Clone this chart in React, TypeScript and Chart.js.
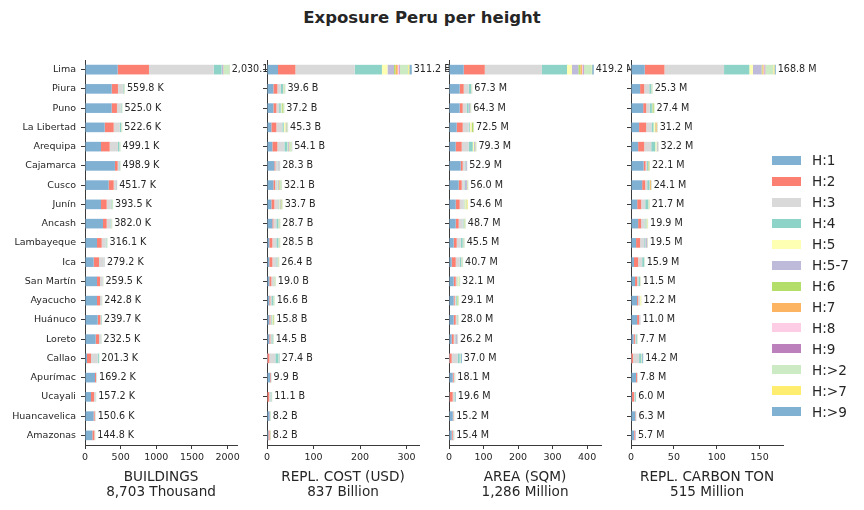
import React, { useEffect, useRef } from "react";
import { Chart, registerables } from "chart.js";

Chart.register(...registerables);
Chart.defaults.font.family = "'DejaVu Sans', sans-serif";

const TEXT = "#262626";
const AXIS = "#3a3a3a";

const regions = [
  "Lima", "Piura", "Puno", "La Libertad", "Arequipa", "Cajamarca", "Cusco",
  "Junín", "Ancash", "Lambayeque", "Ica", "San Martín", "Ayacucho", "Huánuco",
  "Loreto", "Callao", "Apurímac", "Ucayali", "Huancavelica", "Amazonas",
];

const heights = [
  "H:1", "H:2", "H:3", "H:4", "H:5", "H:5-7", "H:6", "H:7", "H:8", "H:9",
  "H:>2", "H:>7", "H:>9",
];

const heightColors = [
  "#80b1d3", "#fb8072", "#d9d9d9", "#8dd3c7", "#ffffb3", "#bebada", "#b3de69",
  "#fdb462", "#fccde5", "#bc80bd", "#ccebc5", "#ffed6f", "#80b1d3",
];

// one row per region, columns follow `heights`
const buildings = [
  [458, 439, 908, 110, 2, 20, 2, 3, 1, 2, 75, 4, 6],
  [374, 88, 68, 10, 1, 3, 2, 1, 0.5, 0.5, 10, 1, 1.3],
  [374, 74, 52, 12, 1, 2, 1, 0.5, 0.3, 0.2, 7, 0.5, 0.5],
  [276, 126, 84, 20, 1.5, 2, 1.5, 0.5, 0.3, 0.3, 9, 0.5, 1],
  [224, 122, 116, 19, 1.5, 3, 1.5, 0.5, 0.3, 0.3, 9, 0.5, 1.5],
  [420, 38, 20, 6, 0.5, 8, 1, 0.3, 0.2, 0.2, 4, 0.3, 0.4],
  [332, 70, 23, 4, 1, 14, 1.5, 0.5, 0.3, 0.3, 4, 0.4, 0.7],
  [224, 80, 56, 10, 2, 3, 2, 0.5, 0.3, 0.3, 14, 0.6, 0.8],
  [252, 52, 51, 8, 2, 2.5, 1.5, 0.5, 0.3, 0.3, 10, 0.5, 1.4],
  [168, 66, 56, 10, 1.5, 3, 1, 0.5, 0.3, 0.3, 8, 0.5, 1],
  [121, 75, 66, 5, 1, 6, 0.5, 0.3, 0.2, 0.2, 3.5, 0.2, 0.3],
  [168, 42, 38, 4, 1.5, 1, 0.5, 0.3, 0.2, 0.2, 3.5, 0.1, 0.2],
  [168, 42, 24, 3, 0.5, 1, 0.5, 0.2, 0.1, 0.1, 3, 0.2, 0.2],
  [178, 37, 10, 8, 0.5, 1, 0.5, 0.2, 0.1, 0.1, 3.8, 0.2, 0.3],
  [150, 46, 24, 5, 0.5, 1.5, 0.5, 0.2, 0.1, 0.1, 4, 0.2, 0.4],
  [28, 56, 94, 16, 0.5, 0.5, 0.3, 0.3, 0.2, 0.2, 4, 0.3, 1],
  [140, 14, 8, 3, 0.5, 0.5, 0.3, 0.2, 0.1, 0.1, 2, 0.2, 0.3],
  [84, 42, 19, 4, 0.5, 1, 0.3, 0.3, 0.2, 0.2, 5, 0.2, 0.5],
  [121, 15, 9, 2, 0.3, 0.5, 0.5, 0.1, 0.1, 0.1, 1.5, 0.1, 0.3],
  [103, 28, 8, 2, 0.3, 0.5, 0.3, 0.3, 0.1, 0.1, 1.8, 0.1, 0.3],
];
const buildingsTotals = [
  2030.1, 559.8, 525.0, 522.6, 499.1, 498.9, 451.7, 393.5, 382.0, 316.1,
  279.2, 259.5, 242.8, 239.7, 232.5, 201.3, 169.2, 157.2, 150.6, 144.8,
];

const cost = [
  [23.7, 37.3, 127.5, 58.5, 12, 14, 3, 5, 3, 1.5, 18, 2.5, 5.2],
  [13.7, 8.6, 7.2, 5, 0.5, 0.6, 0.3, 0.2, 0.1, 0.1, 3, 0.1, 0.2],
  [13.7, 6.4, 5.9, 3.5, 1.5, 0.8, 2, 0.3, 0.2, 0.1, 2.2, 0.3, 0.3],
  [9.4, 10.7, 12.9, 3, 3.6, 2, 1, 0.3, 0.2, 0.1, 1.6, 0.2, 0.3],
  [11.5, 10.8, 15.1, 6.5, 1, 2, 1, 0.4, 0.3, 0.2, 3.6, 0.6, 1.1],
  [15.8, 2.2, 5, 1, 0.3, 2.5, 0.3, 0.2, 0.1, 0.1, 0.5, 0.1, 0.2],
  [13.7, 3.6, 3, 1.5, 0.8, 2.5, 1.5, 0.6, 0.3, 0.3, 3, 0.5, 0.8],
  [9.4, 6.4, 8.7, 1.5, 1, 2, 2, 0.3, 0.2, 0.2, 1.5, 0.3, 0.2],
  [11.5, 2.2, 6.4, 4.4, 0.5, 0.6, 0.5, 0.2, 0.1, 0.1, 1.8, 0.2, 0.2],
  [5, 6.5, 8.6, 4.4, 0.5, 0.6, 0.3, 0.2, 0.1, 0.1, 1.8, 0.2, 0.2],
  [5, 6.5, 8.6, 2.2, 0.5, 0.8, 0.3, 0.2, 0.1, 0.1, 1.8, 0.1, 0.2],
  [5, 4.4, 4, 1, 0.6, 0.4, 0.3, 0.2, 0.1, 0.1, 2.7, 0.1, 0.1],
  [5, 2.2, 2.2, 4, 0.3, 0.5, 0.4, 0.1, 0.1, 0.1, 1.4, 0.1, 0.2],
  [5, 2.2, 2, 2, 1, 0.5, 1.5, 0.2, 0.1, 0.1, 0.8, 0.2, 0.2],
  [5, 2.2, 2.2, 2.5, 0.3, 0.4, 0.2, 0.1, 0.05, 0.05, 1.3, 0.1, 0.1],
  [0.3, 4.7, 13, 6.5, 0.2, 0.2, 0.1, 0.1, 0.05, 0.05, 1, 0.2, 1.1],
  [7, 1.5, 0.7, 0.4, 0.05, 0.05, 0.05, 0.02, 0.01, 0.01, 0.05, 0.02, 0.04],
  [1, 3.5, 3, 2, 0.2, 0.2, 0.1, 0.1, 0.05, 0.05, 0.6, 0.1, 0.2],
  [5.5, 0.8, 0.6, 0.4, 0.1, 0.1, 0.5, 0.05, 0.02, 0.03, 0.05, 0.02, 0.03],
  [3, 2.5, 1, 0.5, 0.1, 0.1, 0.1, 0.7, 0.02, 0.03, 0.05, 0.05, 0.05],
];
const costTotals = [
  311.2, 39.6, 37.2, 45.3, 54.1, 28.3, 32.1, 33.7, 28.7, 28.5,
  26.4, 19.0, 16.6, 15.8, 14.5, 27.4, 9.9, 11.1, 8.2, 8.2,
];

const area = [
  [42.6, 61, 165.4, 72.7, 14.3, 18.6, 5.8, 4.6, 2, 3, 23, 1.5, 4.7],
  [31, 11.6, 14.4, 7, 0.4, 0.6, 0.3, 0.2, 0.1, 0.1, 1.6, 0.1, 0.2],
  [31, 8.7, 11.6, 5.7, 0.5, 4, 0.5, 0.2, 0.1, 0.1, 1.5, 0.2, 0.2],
  [22.3, 17.4, 17.3, 3, 5, 1.2, 3.7, 0.3, 0.2, 0.1, 1.5, 0.2, 0.3],
  [19.4, 17.4, 20.2, 11.7, 3.9, 2.9, 0.8, 0.3, 0.2, 0.1, 1.8, 0.2, 0.4],
  [33.9, 5.8, 5.8, 2, 0.4, 3.8, 0.3, 0.1, 0.1, 0.1, 0.4, 0.1, 0.1],
  [28, 8.8, 5.8, 2, 0.6, 6.7, 0.8, 0.3, 0.2, 0.1, 2.3, 0.2, 0.2],
  [19.4, 11.6, 11.6, 2, 3, 0.6, 1.7, 0.3, 0.1, 0.1, 2, 2, 0.2],
  [19.4, 8.6, 11.7, 2, 0.8, 0.8, 0.8, 0.3, 0.1, 0.1, 3.5, 0.3, 0.3],
  [13.6, 8.7, 11.6, 5.8, 0.6, 1, 0.5, 0.2, 0.1, 0.1, 2.8, 0.2, 0.3],
  [7.7, 11.7, 11.6, 4, 0.5, 1, 0.3, 0.2, 0.1, 0.1, 3, 0.2, 0.3],
  [13.6, 5.8, 3.8, 1, 3, 0.6, 0.5, 0.2, 0.1, 0.1, 2.8, 0.2, 0.4],
  [13.6, 2.9, 3, 3, 0.3, 0.5, 1.5, 0.2, 0.1, 0.1, 3.4, 0.2, 0.3],
  [13.6, 5.8, 3, 2, 0.5, 0.6, 0.4, 0.2, 0.1, 0.1, 1.3, 0.2, 0.2],
  [7.7, 5.9, 3, 1.5, 0.3, 5.7, 0.3, 0.2, 0.1, 0.1, 1, 0.2, 0.2],
  [0.5, 7.2, 17.5, 5.8, 0.2, 0.2, 0.1, 0.1, 0.1, 0.1, 2, 0.2, 3.1],
  [10.7, 3, 2, 1, 0.3, 0.3, 0.2, 0.1, 0.05, 0.05, 0.3, 0.1, 0.1],
  [2, 8.6, 4, 1, 0.2, 0.2, 0.1, 0.1, 0.05, 0.05, 1.3, 0.1, 2],
  [11, 1.5, 1, 0.7, 0.2, 0.3, 0.2, 0.05, 0.03, 0.02, 0.1, 0.05, 0.05],
  [7.7, 3, 2, 1.5, 0.2, 0.3, 0.2, 0.1, 0.05, 0.05, 0.1, 0.1, 0.1],
];
const areaTotals = [
  419.2, 67.3, 64.3, 72.5, 79.3, 52.9, 56.0, 54.6, 48.7, 45.5,
  40.7, 32.1, 29.1, 28.0, 26.2, 37.0, 18.1, 19.6, 15.2, 15.4,
];

const carbon = [
  [16, 23, 69.5, 29.5, 4.2, 10, 1, 1.3, 1, 1, 9.5, 1.3, 1.5],
  [10.6, 4.8, 5.9, 2.3, 0.2, 0.3, 0.2, 0.1, 0.05, 0.05, 0.6, 0.1, 0.1],
  [14.2, 3.5, 4.2, 2.4, 0.3, 0.4, 1.5, 0.1, 0.05, 0.05, 0.6, 0.1, 0.1],
  [9.4, 8.3, 6.2, 2.4, 1.5, 0.4, 0.5, 1.2, 0.1, 0.1, 0.6, 0.2, 0.3],
  [8.3, 7.1, 8.2, 4.7, 1.5, 1.3, 0.3, 0.1, 0.1, 0.1, 0.3, 0.1, 0.1],
  [14.7, 2.3, 1.5, 1.2, 0.2, 0.3, 0.9, 0.1, 0.05, 0.05, 0.6, 0.1, 0.1],
  [13, 3.5, 2.4, 2.5, 0.2, 0.5, 0.2, 1, 0.05, 0.05, 0.4, 0.1, 0.2],
  [7.2, 4.7, 4.7, 3.5, 0.3, 0.4, 0.3, 0.1, 0.05, 0.05, 0.3, 0.1, 0.1],
  [8.3, 3.5, 4, 1, 0.2, 0.2, 0.2, 0.1, 0.05, 0.05, 1.5, 0.6, 0.2],
  [5.9, 4.7, 4.8, 1, 0.2, 2.2, 0.2, 0.1, 0.05, 0.05, 0.2, 0.1, 0.1],
  [3.5, 4.8, 4.7, 2.4, 0.1, 0.1, 0.05, 0.05, 0.02, 0.03, 0.1, 0.02, 0.03],
  [4.7, 2.4, 1.5, 2, 0.2, 0.1, 0.05, 0.05, 0.02, 0.03, 0.4, 0.02, 0.03],
  [7.1, 1.2, 2, 0.3, 1.3, 0.1, 0.05, 0.05, 0.02, 0.03, 0.02, 0.01, 0.02],
  [7.1, 2.3, 0.2, 0.1, 0.05, 1.1, 0.05, 0.02, 0.02, 0.02, 0.02, 0.01, 0.01],
  [3, 1.5, 1.5, 1.2, 0.1, 0.1, 0.05, 0.05, 0.02, 0.03, 0.1, 0.02, 0.03],
  [0.3, 2.1, 7, 2.4, 0.05, 0.05, 0.02, 0.02, 0.02, 0.02, 1, 0.02, 1.2],
  [5.9, 1.2, 0.4, 0.2, 0.02, 0.02, 0.02, 0.01, 0.01, 0.01, 0.02, 0.01, 0.01],
  [1.2, 2.3, 1.2, 1, 0.05, 0.05, 0.02, 0.02, 0.01, 0.01, 0.1, 0.01, 0.03],
  [5, 0.6, 0.4, 0.1, 0.02, 0.05, 0.03, 0.01, 0.01, 0.01, 0.02, 0.01, 0.02],
  [3.5, 0.8, 0.2, 0.1, 0.02, 1, 0.02, 0.01, 0.01, 0.01, 0.02, 0.01, 0.01],
];
const carbonTotals = [
  168.8, 25.3, 27.4, 31.2, 32.2, 22.1, 24.1, 21.7, 19.9, 19.5,
  15.9, 11.5, 12.2, 11.0, 7.7, 14.2, 7.8, 6.0, 6.3, 5.7,
];

function fmtTotal(v: number, unit: string) {
  return (
    v.toLocaleString("en-US", {
      minimumFractionDigits: 1,
      maximumFractionDigits: 1,
    }) +
    " " +
    unit
  );
}

type PanelProps = {
  left: number;
  width: number;
  axisWidth: number;
  padRight: number;
  table: number[][];
  totals: number[];
  unit: string;
  step: number;
  title: string[];
  showRegions: boolean;
};

function Panel(p: PanelProps) {
  const canvasRef = useRef<HTMLCanvasElement>(null);

  useEffect(() => {
    if (!canvasRef.current) return;
    const sums = p.table.map((row) => row.reduce((a, b) => a + b, 0));
    const maxX = Math.max(...sums) * 1.05;

    // bar_label-like totals at the end of every stacked bar
    const totalLabels = {
      id: "totalLabels",
      afterDatasetsDraw(chart: any) {
        const { ctx } = chart;
        const xs = chart.scales.x;
        const ys = chart.scales.y;
        ctx.save();
        ctx.font = "9.6px 'DejaVu Sans'";
        ctx.fillStyle = TEXT;
        ctx.textBaseline = "middle";
        ctx.textAlign = "left";
        p.totals.forEach((t, i) => {
          ctx.fillText(
            fmtTotal(t, p.unit),
            xs.getPixelForValue(sums[i]) + 2,
            ys.getPixelForValue(i),
          );
        });
        ctx.restore();
      },
    };

    const chart = new Chart(canvasRef.current, {
      type: "bar",
      data: {
        labels: regions,
        datasets: heights.map((h, k) => ({
          label: h,
          data: p.table.map((row) => row[k]),
          backgroundColor: heightColors[k],
          borderWidth: 0,
          barPercentage: 0.5,
          categoryPercentage: 1,
        })),
      },
      options: {
        indexAxis: "y",
        animation: false,
        responsive: true,
        maintainAspectRatio: false,
        layout: { padding: { top: 60, right: p.padRight, left: 0, bottom: 0 } },
        plugins: {
          legend: { display: false },
          tooltip: { enabled: false },
        },
        scales: {
          x: {
            stacked: true,
            min: 0,
            max: maxX,
            grid: {
              drawOnChartArea: false,
              drawTicks: true,
              tickLength: 4,
              color: AXIS,
            },
            border: { display: true, color: AXIS, width: 1 },
            ticks: {
              autoSkip: false,
              maxRotation: 0,
              padding: 3,
              color: TEXT,
              font: { size: 9.5 },
              callback: (v: any) => String(v),
            },
            afterBuildTicks: (s: any) => {
              const t = [];
              for (let v = 0; v <= s.max; v += p.step) t.push({ value: v });
              s.ticks = t;
            },
            title: {
              display: true,
              text: p.title,
              color: TEXT,
              font: { size: 13.6, lineHeight: 1.1 },
              padding: { top: 0, bottom: 10 },
            },
            afterFit: (s: any) => {
              s.height = 65;
            },
          },
          y: {
            stacked: true,
            grid: {
              drawOnChartArea: false,
              drawTicks: true,
              tickLength: 4,
              offset: false,
              color: AXIS,
            },
            border: { display: true, color: AXIS, width: 1 },
            ticks: {
              display: p.showRegions,
              autoSkip: false,
              padding: 5,
              color: TEXT,
              font: { size: 9.5 },
            },
            afterFit: (s: any) => {
              s.width = p.axisWidth;
            },
          },
        },
      } as any,
      plugins: [totalLabels],
    });

    return () => chart.destroy();
  }, []);

  return (
    <div
      style={{
        position: "absolute",
        left: p.left,
        top: 0,
        width: p.width,
        height: 510,
      }}
    >
      <canvas ref={canvasRef} />
    </div>
  );
}

export default function App() {
  return (
    <div
      style={{
        position: "fixed",
        left: 0,
        top: 0,
        width: 864,
        height: 510,
        background: "#fff",
        fontFamily: "'DejaVu Sans', sans-serif",
        color: TEXT,
        overflow: "hidden",
      }}
    >
      <div
        style={{
          position: "absolute",
          left: 0,
          top: 10,
          width: 844,
          textAlign: "center",
          fontWeight: "bold",
          fontSize: 16.5,
          lineHeight: "16.5px",
        }}
      >
        Exposure Peru per height
      </div>

      <Panel
        left={0}
        width={267}
        axisWidth={85}
        padRight={30}
        table={buildings}
        totals={buildingsTotals}
        unit="K"
        step={500}
        title={["BUILDINGS", "8,703 Thousand"]}
        showRegions
      />
      <Panel
        left={260}
        width={189}
        axisWidth={7}
        padRight={30}
        table={cost}
        totals={costTotals}
        unit="B"
        step={100}
        title={["REPL. COST (USD)", "837 Billion"]}
        showRegions={false}
      />
      <Panel
        left={442}
        width={189}
        axisWidth={7}
        padRight={30}
        table={area}
        totals={areaTotals}
        unit="M"
        step={100}
        title={["AREA (SQM)", "1,286 Million"]}
        showRegions={false}
      />
      <Panel
        left={624}
        width={240}
        axisWidth={7}
        padRight={81}
        table={carbon}
        totals={carbonTotals}
        unit="M"
        step={50}
        title={["REPL. CARBON TON", "515 Million"]}
        showRegions={false}
      />

      <div style={{ position: "absolute", left: 772, top: 150 }}>
        {heights.map((h, k) => (
          <div
            key={h}
            style={{
              height: 20.95,
              display: "flex",
              alignItems: "center",
              fontSize: 13.6,
            }}
          >
            <span
              style={{
                width: 29,
                height: 9,
                background: heightColors[k],
                marginRight: 11,
                flexShrink: 0,
              }}
            />
            <span>{h}</span>
          </div>
        ))}
      </div>
    </div>
  );
}
